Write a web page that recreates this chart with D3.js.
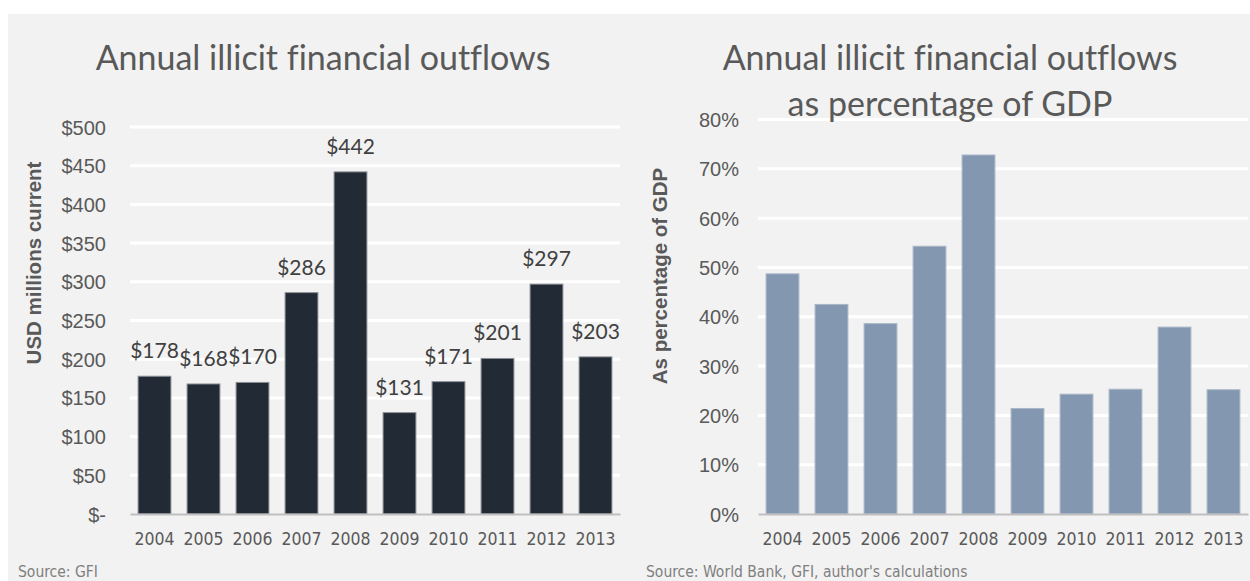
<!DOCTYPE html>
<html>
<head>
<meta charset="utf-8">
<script src="https://cdn.jsdelivr.net/npm/d3@7"></script>
<style>
  html, body { margin: 0; padding: 0; background: #ffffff; }
  svg { display: block; }
  text { font-variant-ligatures: none; }
</style>
</head>
<body>
<svg id="chart" width="1250" height="581"></svg>
<script>
// Years shown on both panels
const years = ["2004", "2005", "2006", "2007", "2008", "2009", "2010", "2011", "2012", "2013"];
// Illicit outflows, USD millions (current)
const outflowsUSD = [178, 168, 170, 286, 442, 131, 171, 201, 297, 203];
// Same outflows as a share of GDP
const outflowsPctGDP = [0.487, 0.425, 0.386, 0.543, 0.728, 0.214, 0.243, 0.253, 0.379, 0.252];
// Axis ticks
const usdTicks = [0, 50, 100, 150, 200, 250, 300, 350, 400, 450, 500];
const pctTicks = [0, 0.1, 0.2, 0.3, 0.4, 0.5, 0.6, 0.7, 0.8];

const svg = d3.select("#chart");

// Panel background
svg.append("rect")
  .attr("x", 8).attr("y", 14)
  .attr("width", 1242).attr("height", 567)
  .attr("fill", "#f2f2f2");

const titleFont = "Lato, 'Open Sans', sans-serif";
const axisFont = "'Liberation Sans', Arial, sans-serif";
const catFont = "'DejaVu Sans Condensed', 'DejaVu Sans', sans-serif";

function panel(opts) {
  const g = svg.append("g");
  const x = d3.scaleBand().domain(years).range(opts.xRange).paddingInner(0.33).paddingOuter(0.165);
  const y = d3.scaleLinear().domain(opts.yDomain).range(opts.yRange);

  // gridlines
  g.append("g").selectAll("line")
    .data(opts.ticks.filter(t => t > 0))
    .join("line")
    .attr("x1", opts.xRange[0]).attr("x2", opts.xRange[1])
    .attr("y1", d => y(d)).attr("y2", d => y(d))
    .attr("stroke", "#ffffff").attr("stroke-width", 3);

  // y axis labels
  const yAxis = d3.axisLeft(y).tickValues(opts.ticks).tickFormat(opts.tickFormat).tickSize(0).tickPadding(0);
  const ya = g.append("g")
    .attr("transform", `translate(${opts.yLabelX},0)`)
    .call(yAxis);
  ya.select(".domain").remove();
  ya.selectAll("text")
    .attr("font-family", axisFont)
    .attr("font-size", 20)
    .attr("fill", "#595959")
    .attr("dy", "0.35em");

  // bars
  g.append("g").selectAll("rect")
    .data(opts.values)
    .join("rect")
    .attr("x", (d, i) => x(years[i]))
    .attr("y", d => y(d))
    .attr("width", x.bandwidth())
    .attr("height", d => y(0) - y(d))
    .attr("fill", opts.barColor)
    .attr("stroke", opts.barStroke)
    .attr("stroke-width", 1);

  // base axis
  const xAxis = d3.axisBottom(x).tickSize(0).tickPadding(0);
  const xa = g.append("g")
    .attr("transform", `translate(0,${y(0)})`)
    .call(xAxis);
  xa.select(".domain")
    .attr("stroke", "#bfbfbf").attr("stroke-width", 2);
  xa.selectAll("text")
    .attr("font-family", catFont)
    .attr("font-size", 17.5)
    .attr("fill", "#595959")
    .attr("dy", "1.75em");

  // y axis title
  g.append("text")
    .attr("transform", `translate(${opts.yTitleX},${opts.yTitleY}) rotate(-90)`)
    .attr("text-anchor", "middle")
    .attr("font-family", axisFont)
    .attr("font-weight", "bold")
    .attr("font-size", 20.5)
    .attr("fill", "#595959")
    .text(opts.yTitle);

  // chart title
  const t = g.append("text")
    .attr("x", opts.titleX)
    .attr("y", 70)
    .attr("text-anchor", "middle")
    .attr("font-family", titleFont)
    .attr("font-size", 34)
    .attr("fill", "#595959");
  opts.title.forEach((line, i) => {
    t.append("tspan").attr("x", opts.titleX).attr("dy", i === 0 ? 0 : 46).text(line);
  });

  // source
  g.append("text")
    .attr("x", opts.sourceX).attr("y", 577)
    .attr("font-family", catFont)
    .attr("font-size", 15.5)
    .attr("fill", "#7f7f7f")
    .text(opts.source);

  return { g, x, y };
}

const left = panel({
  xRange: [130, 620],
  yDomain: [0, 500],
  yRange: [514, 127],
  ticks: usdTicks,
  tickFormat: d => d === 0 ? "$-" : "$" + d,
  yLabelX: 106,
  values: outflowsUSD,
  barColor: "#222a35",
  barStroke: "#8c9096",
  yTitle: "USD millions current",
  yTitleX: 41, yTitleY: 263,
  title: ["Annual illicit financial outflows"],
  titleX: 323,
  source: "Source: GFI",
  sourceX: 18
});

// value labels above the USD bars
left.g.append("g").selectAll("text")
  .data(outflowsUSD)
  .join("text")
  .attr("x", (d, i) => left.x(years[i]) + left.x.bandwidth() / 2)
  .attr("y", d => left.y(d) - 18)
  .attr("text-anchor", "middle")
  .attr("font-family", titleFont)
  .attr("font-size", 21)
  .attr("fill", "#404040")
  .text(d => "$" + d);

panel({
  xRange: [758, 1248],
  yDomain: [0, 0.8],
  yRange: [514, 119.5],
  ticks: pctTicks,
  tickFormat: d => Math.round(d * 100) + "%",
  yLabelX: 739,
  values: outflowsPctGDP,
  barColor: "#8497b0",
  barStroke: "#a9b7c8",
  yTitle: "As percentage of GDP",
  yTitleX: 667, yTitleY: 276,
  title: ["Annual illicit financial outflows", "as percentage of GDP"],
  titleX: 950,
  source: "Source: World Bank, GFI, author's calculations",
  sourceX: 646
});
</script>
</body>
</html>
